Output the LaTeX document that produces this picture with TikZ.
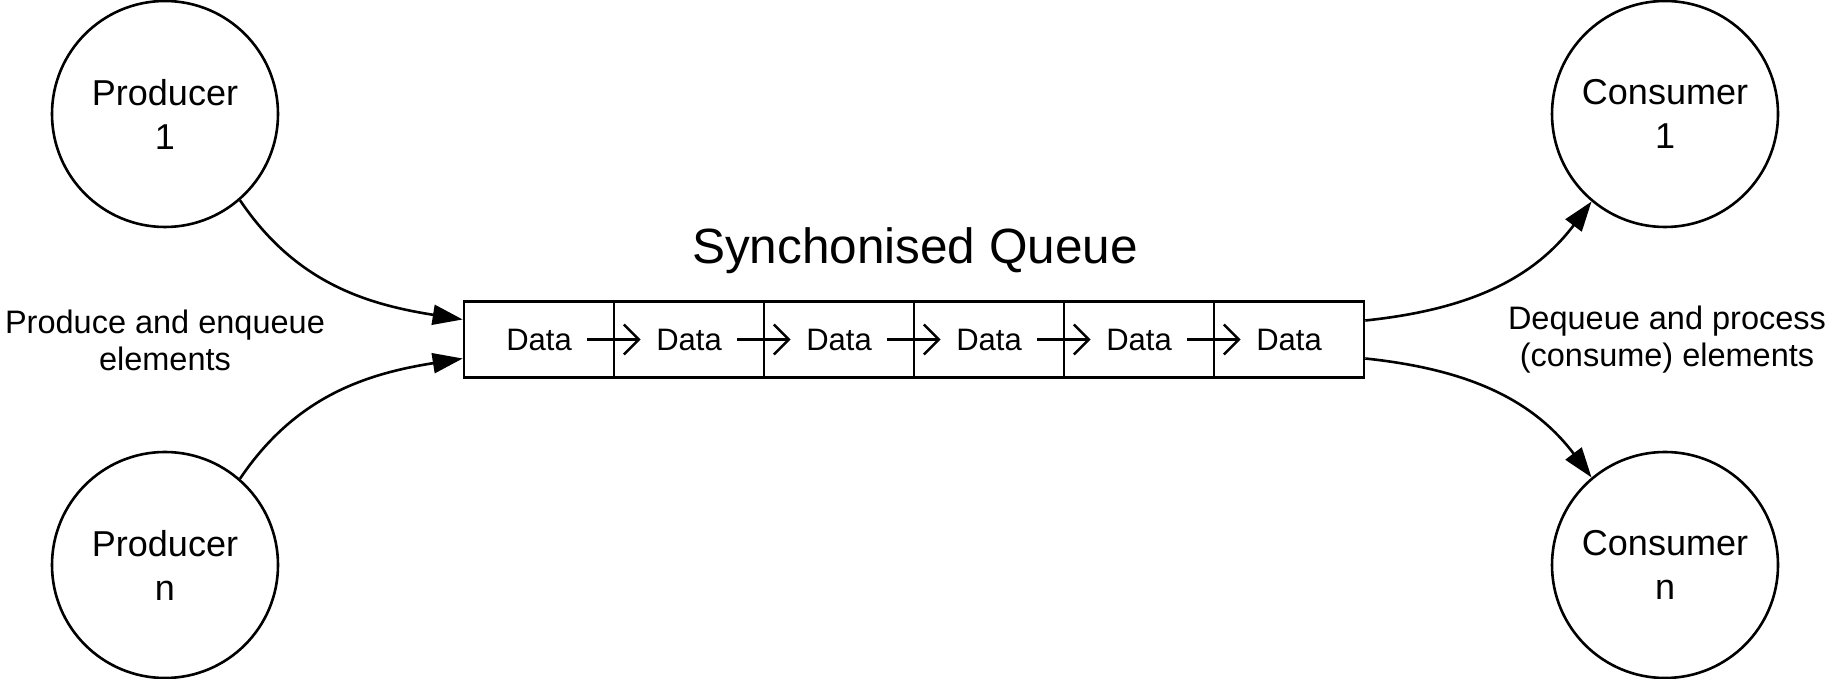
\documentclass[tikz,border=0pt]{standalone}
\usepackage{fontspec}
\setmainfont{Liberation Sans}
\usetikzlibrary{arrows.meta}

\begin{document}
\begin{tikzpicture}[x=1pt, y=1pt, line width=2.6pt,
    agent/.style={draw, circle, minimum size=226pt, inner sep=0pt, align=center,
        font=\fontsize{36}{44}\selectfont},
    cell/.style={draw, rectangle, minimum width=150pt, minimum height=75.5pt,
        inner sep=0pt, font=\fontsize{31}{37}\selectfont},
    note/.style={align=center, font=\fontsize{32.5}{37}\selectfont},
    flow/.style={-{Triangle[length=30pt, width=20pt]}},
    link/.style={-{Straight Barb[length=15pt, width=30pt]}}]
    \useasboundingbox (0,0) rectangle (1839,679);

    \node[agent] (prod1) at (165,565) {Producer\\1};
    \node[agent] (prodn) at (165,114) {Producer\\n};
    \node[agent] (cons1) at (1665,565) {Consumer\\1};
    \node[agent] (consn) at (1665,114) {Consumer\\n};

    % the queue
    \foreach \i in {1,...,6}
        \node[cell] (d\i) at ({389+150*\i}, 339.5) {Data};
    \foreach \i in {1,...,5} {
        \pgfmathtruncatemacro{\j}{\i+1}
        \draw[link] ([xshift=-28pt]d\i.east) -- ([xshift=28pt]d\j.west);
    }
    \node[font=\fontsize{49.5}{60}\selectfont, anchor=base] (title) at (915,415) {Synchonised Queue};

    \node[note] (prodtext) at (165,339) {Produce and enqueue\\elements};
    \node[note] (constext) at (1667,339) {Dequeue and process\\(consume) elements};

    \draw[flow] (prod1.-49) to[out=-56, in=171] ([yshift=20pt]d1.west);
    \draw[flow] (prodn.49) to[out=56, in=189] ([yshift=-19pt]d1.west);
    \draw[flow] ([yshift=19pt]d6.east) to[out=6, in=233] (cons1.230);
    \draw[flow] ([yshift=-19pt]d6.east) to[out=-6, in=127] (consn.130);
\end{tikzpicture}
\end{document}
